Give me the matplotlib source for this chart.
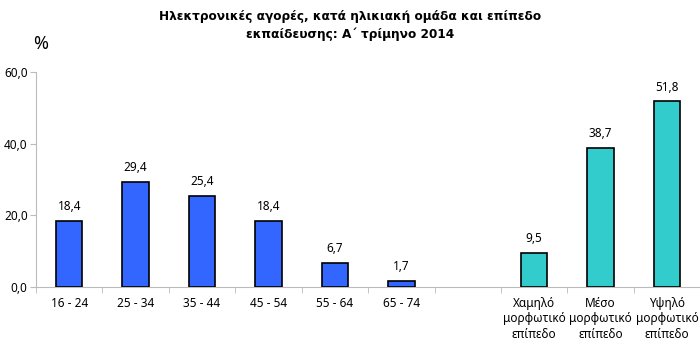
import matplotlib.pyplot as plt
import numpy as np

plt.rcParams['font.family'] = ['Noto Sans', 'DejaVu Sans']

# age groups and education levels
age_groups = ["16 - 24", "25 - 34", "35 - 44", "45 - 54", "55 - 64", "65 - 74"]
age_values = [18.4, 29.4, 25.4, 18.4, 6.7, 1.7]
edu_levels = ["Χαμηλό\nμορφωτικό\nεπίπεδο", "Μέσο\nμορφωτικό\nεπίπεδο", "Υψηλό\nμορφωτικό\nεπίπεδο"]
edu_values = [9.5, 38.7, 51.8]

fig = plt.figure(figsize=(7, 3.53), dpi=100)
ax = fig.add_axes([0.0514, 0.187, 0.949, 0.609])

n_age = len(age_groups)
x_age = np.arange(n_age)
x_edu = np.arange(len(edu_levels)) + n_age + 1

ax.bar(x_age, age_values, width=0.4, color="#3366FF", edgecolor="black", linewidth=1.2, zorder=3)
ax.bar(x_edu, edu_values, width=0.4, color="#33CCCC", edgecolor="black", linewidth=1.2, zorder=3)

for x, v in list(zip(x_age, age_values)) + list(zip(x_edu, edu_values)):
    ax.text(x, v + 2.2, f"{v:.1f}".replace(".", ","), ha="center", va="bottom", fontsize=8.5)

ax.set_xlim(-0.5, n_age + len(edu_levels) + 0.5)
ax.set_ylim(0, 60)
ax.set_yticks([0, 20, 40, 60])
ax.set_yticklabels([f"{t:.1f}".replace(".", ",") for t in [0, 20, 40, 60]], fontsize=8.5)

ax.set_xticks(list(x_age) + list(x_edu))
ax.set_xticklabels(age_groups + edu_levels, fontsize=8.5, linespacing=1.25)
ax.tick_params(axis="x", length=0, pad=7)
ax.set_xticks(np.arange(-0.5, n_age + len(edu_levels) + 0.6, 1), minor=True)
ax.tick_params(axis="x", which="minor", length=4, color="#BBBBBB", direction="out")
ax.tick_params(axis="y", length=4, color="#BBBBBB", pad=2)

for s in ("top", "right"):
    ax.spines[s].set_visible(False)
ax.spines["left"].set_color("#BBBBBB")
ax.spines["bottom"].set_color("#BBBBBB")

fig.text(0.5, 0.972, "Ηλεκτρονικές αγορές, κατά ηλικιακή ομάδα και επίπεδο\nεκπαίδευσης: Α΄ τρίμηνο 2014",
         ha="center", va="top", fontsize=8.7, fontweight="bold", linespacing=1.45,
         family=["DejaVu Sans"])
fig.text(0.047, 0.85, "%", ha="left", va="bottom", fontsize=13)

fig.savefig("out.png", dpi=100)
